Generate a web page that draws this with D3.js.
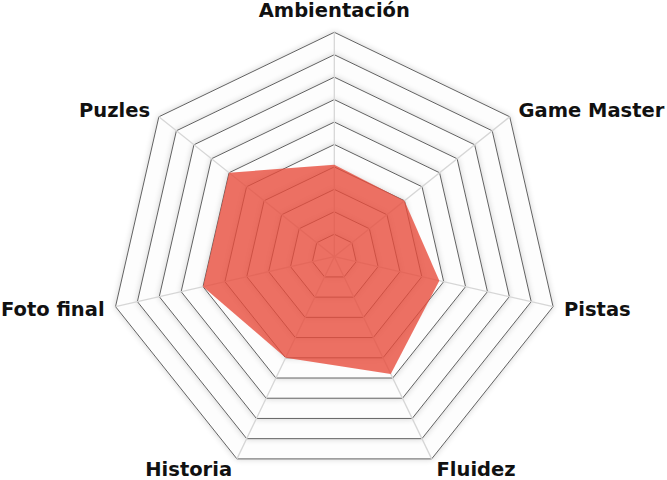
<!DOCTYPE html>
<html>
<head>
<meta charset="utf-8">
<script src="https://cdn.jsdelivr.net/npm/d3@7"></script>
<style>
  body { margin: 0; background: #fff; }
  .axis-label { font-family: "DejaVu Sans", Verdana, sans-serif; font-weight: bold; font-size: 19.5px; fill: #111; }
</style>
</head>
<body>
<div class="svg-container"></div>
<script>
// axis names, clockwise from the top
const axes = ["Ambientación", "Game Master", "Pistas", "Fluidez", "Historia", "Foto final", "Puzles"];
// scores (scale 0 - 10)
const scores = [4.1, 4.0, 4.8, 5.8, 5.0, 6.0, 6.0];
// grid levels
const levels = [1, 2, 3, 4, 5, 6, 7, 8, 9, 10];
const maxValue = 10;

const width = 667;
const height = 480;
const cx = 334.3;
const cy = 256.7;
const radius = 224.4;

const svg = d3
  .select(".svg-container")
  .append("svg")
  .attr("width", width)
  .attr("height", height);

// soft shadow round the grid rings
const defs = svg.append("defs");
const filter = defs.append("filter").attr("id", "glow")
  .attr("x", "-20%").attr("y", "-20%").attr("width", "140%").attr("height", "140%");
filter.append("feGaussianBlur").attr("in", "SourceAlpha").attr("stdDeviation", 3).attr("result", "blur");
filter.append("feComponentTransfer").attr("in", "blur").attr("result", "soft")
  .append("feFuncA").attr("type", "linear").attr("slope", 0.18);
const merge = filter.append("feMerge");
merge.append("feMergeNode").attr("in", "soft");
merge.append("feMergeNode").attr("in", "SourceGraphic");

const g = svg.append("g").attr("transform", `translate(${cx},${cy})`);

// scales
const rScale = d3.scaleLinear().domain([0, maxValue]).range([0, radius]);
const angle = d3.scaleLinear().domain([0, axes.length]).range([0, 2 * Math.PI]);

const radarLine = d3
  .lineRadial()
  .radius((d) => rScale(d))
  .angle((d, i) => angle(i))
  .curve(d3.curveLinearClosed);

// grid rings, biggest first
g.selectAll(".ring")
  .data(levels.slice().reverse())
  .enter()
  .append("path")
  .attr("class", "ring")
  .attr("d", (lv) => radarLine(axes.map(() => lv)))
  .attr("fill", "#fdfdfd")
  .attr("stroke", "#3c3c3c")
  .attr("stroke-width", 0.8)
  .attr("filter", "url(#glow)");

// spokes
g.selectAll(".spoke")
  .data(axes)
  .enter()
  .append("line")
  .attr("class", "spoke")
  .attr("x1", 0)
  .attr("y1", 0)
  .attr("x2", (d, i) => rScale(maxValue) * Math.sin(angle(i)))
  .attr("y2", (d, i) => -rScale(maxValue) * Math.cos(angle(i)))
  .attr("stroke", "#d6d6d6")
  .attr("stroke-width", 1.3);

// the scores area
g.append("path")
  .datum(scores)
  .attr("d", radarLine)
  .attr("fill", "#E74C3C")
  .attr("fill-opacity", 0.8)
  .attr("stroke", "none");

// labels
g.selectAll(".axis-label")
  .data(axes)
  .enter()
  .append("text")
  .attr("class", "axis-label")
  .attr("x", (d, i) => rScale(maxValue * 1.05) * Math.sin(angle(i)))
  .attr("y", (d, i) => -rScale(maxValue * 1.05) * Math.cos(angle(i)))
  .attr("dy", (d, i) => (i === 0 ? "-0.2em" : "0.35em"))
  .attr("text-anchor", (d, i) => {
    const s = Math.sin(angle(i));
    if (Math.abs(s) < 0.01) return "middle";
    return s > 0 ? "start" : "end";
  })
  .text((d) => d);
</script>
</body>
</html>
